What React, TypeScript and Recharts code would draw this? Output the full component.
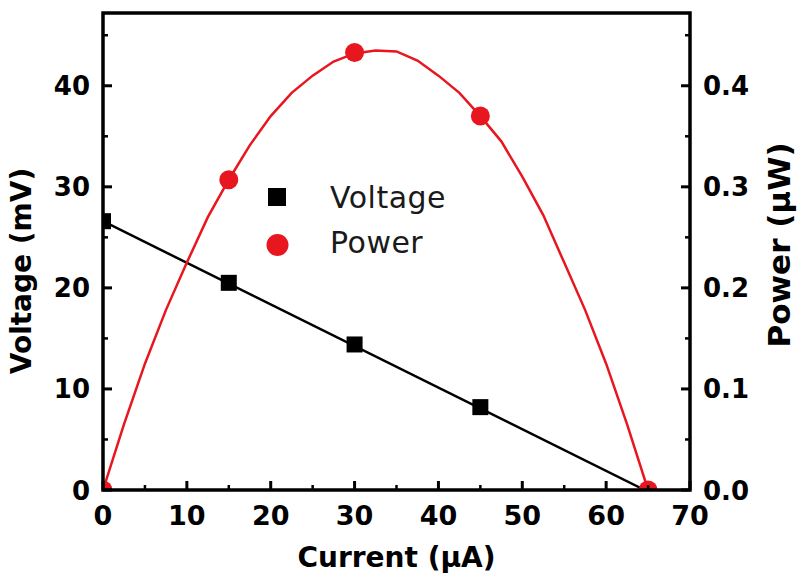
import {
  ComposedChart,
  Line,
  Scatter,
  XAxis,
  YAxis,
  Legend,
} from 'recharts'

// ── Data ──────────────────────────────────────────────────────────────────────

const currentPts = [0, 15, 30, 45]
const voltagePts = [26.6, 20.5, 14.4, 8.2]

const powerCurrentPts = [0, 15, 30, 45, 65]
const powerPts = [0, 0.307, 0.433, 0.37, 0]

// linear fit of voltage
const fitCurrent = [0, 64.6]
const fitVoltage = [26.6, 0]

// fitted power curve
const curveCurrent = [0, 2.5, 5, 7.5, 10, 12.5, 15, 17.5, 20, 22.5, 25, 27.5, 30, 32.5, 35, 37.5, 40, 42.5, 45, 47.5, 50, 52.5, 55, 57.5, 60, 62.5, 65]
const curvePower = [0, 0.065, 0.125, 0.178, 0.225, 0.27, 0.307, 0.341, 0.37, 0.393, 0.41, 0.424, 0.432, 0.435, 0.434, 0.425, 0.41, 0.393, 0.37, 0.345, 0.31, 0.272, 0.225, 0.178, 0.125, 0.065, 0]

const xTicks = [0, 5, 10, 15, 20, 25, 30, 35, 40, 45, 50, 55, 60, 65, 70]
const vTicks = [0, 5, 10, 15, 20, 25, 30, 35, 40, 45]
const pTicks = [0, 0.05, 0.1, 0.15, 0.2, 0.25, 0.3, 0.35, 0.4, 0.45]

const seriesNames = ['Voltage', 'Power']

// ── Styling ───────────────────────────────────────────────────────────────────

const RED = '#e8161e'
const FONT = '"DejaVu Sans", sans-serif'
const MAJOR = 9
const MINOR = 5

// plot frame (pixels) — margins and axis sizes below put the plot here
const PLOT = { left: 103, top: 13, right: 690, bottom: 490 }

const voltageMarks = currentPts.map((i, k) => ({ i, v: voltagePts[k] }))
const powerMarks = powerCurrentPts.map((i, k) => ({ i, p: powerPts[k] }))
const fitData = fitCurrent.map((i, k) => ({ i, v: fitVoltage[k] }))
const curveData = curveCurrent.map((i, k) => ({ i, p: curvePower[k] }))

const isMajor = (v: number, step: number) => Math.abs(v / step - Math.round(v / step)) < 1e-6

function BottomTick({ x, y, payload }: any) {
  const major = isMajor(payload.value, 10)
  return (
    <g>
      <line x1={x} x2={x} y1={y} y2={y - (major ? MAJOR : MINOR)} stroke="#000" strokeWidth={major ? 3 : 2.5} />
      {major && (
        <text x={x} y={y + 35} textAnchor="middle" fontFamily={FONT} fontWeight="bold" fontSize={27} fill="#000">
          {payload.value}
        </text>
      )}
    </g>
  )
}

function TopTick({ x, y, payload }: any) {
  const major = isMajor(payload.value, 10)
  return <line x1={x} x2={x} y1={y} y2={y + (major ? MAJOR : MINOR)} stroke="#000" strokeWidth={major ? 3 : 2.5} />
}

function LeftTick({ x, y, payload }: any) {
  const major = isMajor(payload.value, 10)
  return (
    <g>
      <line x1={x} x2={x + (major ? MAJOR : MINOR)} y1={y} y2={y} stroke="#000" strokeWidth={major ? 3 : 2.5} />
      {major && (
        <text x={x - 13} y={y + 9.5} textAnchor="end" fontFamily={FONT} fontWeight="bold" fontSize={26} fill="#000">
          {payload.value}
        </text>
      )}
    </g>
  )
}

function RightTick({ x, y, payload }: any) {
  const major = isMajor(payload.value, 0.1)
  return (
    <g>
      <line x1={x} x2={x - (major ? MAJOR : MINOR)} y1={y} y2={y} stroke="#000" strokeWidth={major ? 3 : 2.5} />
      {major && (
        <text x={x + 13} y={y + 9.5} textAnchor="start" fontFamily={FONT} fontWeight="bold" fontSize={26} fill="#000">
          {payload.value.toFixed(1)}
        </text>
      )}
    </g>
  )
}

function LegendBox() {
  return (
    <svg width={220} height={95} style={{ display: 'block' }}>
      <rect x={8} y={13} width={18} height={18} fill="#000" />
      <text x={70} y={33} fontFamily={FONT} fontSize={30} letterSpacing={0.5} fill="#1a1a1a">
        {seriesNames[0]}
      </text>
      <circle cx={17.5} cy={70} r={11} fill={RED} />
      <text x={70} y={78} fontFamily={FONT} fontSize={30} letterSpacing={0.5} fill="#1a1a1a">
        {seriesNames[1]}
      </text>
    </svg>
  )
}

export default function App() {
  return (
    <div style={{ position: 'absolute', left: 0, top: 0, width: 800, height: 581, background: '#fff' }}>
      <ComposedChart width={800} height={581} margin={{ top: PLOT.top, right: 0, bottom: 0, left: 0 }}>
        <XAxis
          xAxisId="x"
          dataKey="i"
          type="number"
          domain={[0, 70]}
          ticks={xTicks}
          interval={0}
          allowDataOverflow
          height={581 - PLOT.bottom}
          tickSize={0}
          tickMargin={0}
          tickLine={false}
          axisLine={false}
          tick={<BottomTick />}
          label={{
            value: 'Current (µA)',
            position: 'insideBottom',
            offset: 14,
            style: { fontFamily: FONT, fontWeight: 'bold', fontSize: 28, fill: '#000' },
          }}
        />
        <XAxis
          xAxisId="top"
          orientation="top"
          dataKey="i"
          type="number"
          domain={[0, 70]}
          ticks={xTicks}
          interval={0}
          height={0}
          tickSize={0}
          tickMargin={0}
          tickLine={false}
          axisLine={false}
          tick={<TopTick />}
        />
        <YAxis
          yAxisId="v"
          type="number"
          domain={[0, 47.2]}
          ticks={vTicks}
          interval={0}
          allowDataOverflow
          width={PLOT.left}
          tickSize={0}
          tickMargin={0}
          tickLine={false}
          axisLine={false}
          tick={<LeftTick />}
        />
        <YAxis
          yAxisId="p"
          orientation="right"
          type="number"
          domain={[0, 0.472]}
          ticks={pTicks}
          interval={0}
          allowDataOverflow
          width={800 - PLOT.right}
          tickSize={0}
          tickMargin={0}
          tickLine={false}
          axisLine={false}
          tick={<RightTick />}
        />
        <Legend
          layout="vertical"
          align="center"
          verticalAlign="middle"
          content={() => <LegendBox />}
          wrapperStyle={{ position: 'absolute', left: 260, top: 175, width: 220, height: 95 }}
        />
        <Line
          xAxisId="x"
          yAxisId="v"
          data={fitData}
          dataKey="v"
          type="linear"
          stroke="#000"
          strokeWidth={2.5}
          dot={false}
          activeDot={false}
          legendType="none"
          isAnimationActive={false}
        />
        <Line
          xAxisId="x"
          yAxisId="p"
          data={curveData}
          dataKey="p"
          type="linear"
          stroke={RED}
          strokeWidth={2.5}
          dot={false}
          activeDot={false}
          legendType="none"
          isAnimationActive={false}
        />
        <Scatter
          xAxisId="x"
          yAxisId="v"
          data={voltageMarks}
          dataKey="v"
          name="Voltage"
          isAnimationActive={false}
          shape={(p: any) => <rect x={p.cx - 8} y={p.cy - 8} width={16} height={16} fill="#000" />}
        />
        <Scatter
          xAxisId="x"
          yAxisId="p"
          data={powerMarks}
          dataKey="p"
          name="Power"
          isAnimationActive={false}
          shape={(p: any) => <circle cx={p.cx} cy={p.cy} r={9.5} fill={RED} />}
        />
      </ComposedChart>
      {/* plot frame */}
      <svg
        width={800}
        height={581}
        style={{ position: 'absolute', left: 0, top: 0, pointerEvents: 'none' }}
      >
        <rect
          x={PLOT.left}
          y={PLOT.top}
          width={PLOT.right - PLOT.left}
          height={PLOT.bottom - PLOT.top}
          fill="none"
          stroke="#000"
          strokeWidth={3.5}
        />
      </svg>
      <div
        style={{
          position: 'absolute',
          left: 21,
          top: 271,
          transform: 'translate(-50%, -50%) rotate(-90deg)',
          fontFamily: FONT,
          fontWeight: 'bold',
          fontSize: 28,
          whiteSpace: 'nowrap',
          color: '#000',
        }}
      >
        Voltage (mV)
      </div>
      <div
        style={{
          position: 'absolute',
          left: 779,
          top: 245,
          transform: 'translate(-50%, -50%) rotate(-90deg)',
          fontFamily: FONT,
          fontWeight: 'bold',
          fontSize: 31,
          whiteSpace: 'nowrap',
          color: '#000',
        }}
      >
        Power (µW)
      </div>
    </div>
  )
}
